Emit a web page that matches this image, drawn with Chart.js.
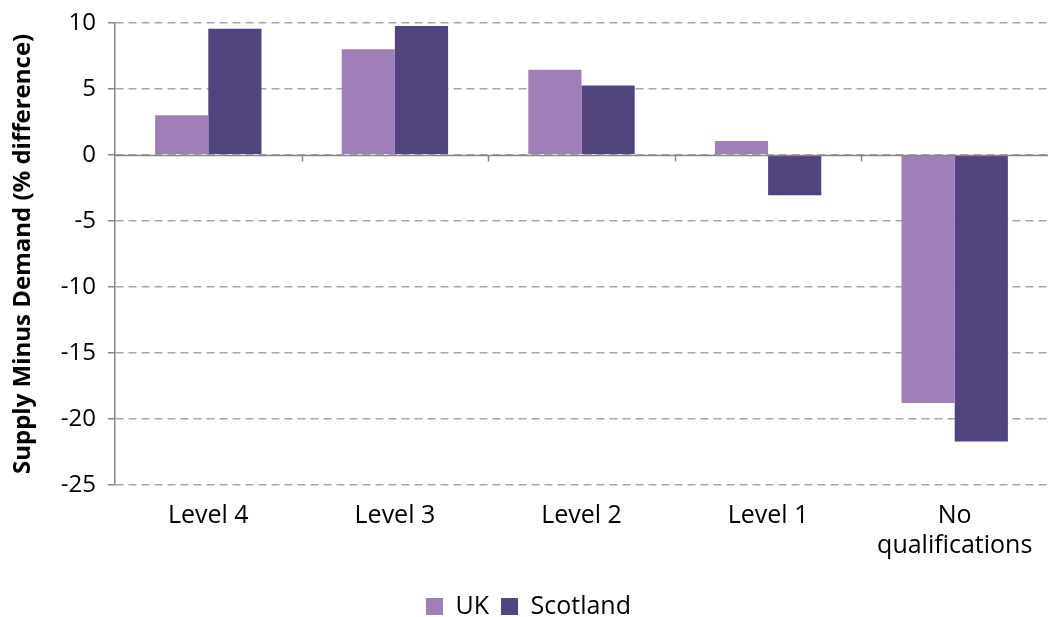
<!DOCTYPE html>
<html><head><meta charset="utf-8">
<script src="https://cdn.jsdelivr.net/npm/chart.js@4/dist/chart.umd.min.js"></script>
<style>html,body{margin:0;padding:0;background:#fff}#wrap{width:1048px;height:617px}</style>
</head><body><div id="wrap"><canvas id="c"></canvas></div>
<script>
const categories = [["Level 4"], ["Level 3"], ["Level 2"], ["Level 1"], ["No", "qualifications"]];
const ukValues = [3.0, 8.0, 6.45, 1.05, -18.8];
const scotlandValues = [9.55, 9.75, 5.25, -3.05, -21.7];
const yTicks = [10, 5, 0, -5, -10, -15, -20, -25];

const zeroLine = {
  id: 'zeroLine',
  afterLayout(chart) {
    // nudge the legend a little lower, as in the reference
    if (chart.legend) { chart.legend.top += 12; chart.legend.bottom += 12; }
  },
  afterDatasetsDraw(chart) {
    const {ctx, chartArea, scales} = chart;
    const y0 = Math.round(scales.y.getPixelForValue(0)) + 0.5;
    ctx.save();
    ctx.strokeStyle = '#868686';
    ctx.lineWidth = 1.5;
    ctx.beginPath();
    ctx.moveTo(chartArea.left, y0);
    ctx.lineTo(chartArea.right, y0);
    const n = categories.length;
    const w = (chartArea.right - chartArea.left) / n;
    for (let i = 1; i < n; i++) {
      const x = Math.round(chartArea.left + i * w) + 0.5;
      ctx.moveTo(x, y0);
      ctx.lineTo(x, y0 + 6);
    }
    ctx.stroke();
    ctx.restore();
  }
};

new Chart(document.getElementById('c'), {
  type: 'bar',
  data: {
    labels: categories,
    datasets: [
      {label: 'UK', data: ukValues, backgroundColor: '#9e7fb8'},
      {label: 'Scotland', data: scotlandValues, backgroundColor: '#52437e'}
    ]
  },
  options: {
    responsive: true,
    maintainAspectRatio: false,
    animation: false,
    layout: {padding: {top: 10, right: 0, left: 9, bottom: 0}},
    datasets: {bar: {categoryPercentage: 0.57, barPercentage: 1.0}},
    plugins: {
      legend: {
        position: 'bottom',
        labels: {boxWidth: 17, boxHeight: 17, padding: 12, color: '#000',
          font: {family: 'Open Sans', size: 25}}
      },
      tooltip: {enabled: false}
    },
    scales: {
      x: {
        afterFit(scale) { scale.height = 85; },
        grid: {display: false},
        border: {display: false},
        ticks: {color: '#000', font: {family: 'Open Sans', size: 25, lineHeight: 1.2}, padding: 8, maxRotation: 0}
      },
      y: {
        min: -25, max: 10,
        afterBuildTicks(scale) { scale.ticks = yTicks.map(v => ({value: v})); },
        afterFit(scale) { scale.width = 106; },
        grid: {color: '#a6a6a6', lineWidth: 1.5, tickLength: 7, tickColor: '#868686'},
        border: {display: true, color: '#868686', width: 1.5, dash: [8, 5]},
        ticks: {color: '#000', font: {family: 'Open Sans', size: 24, lineHeight: 0.9}, padding: 12},
        title: {display: true, text: 'Supply Minus Demand (% difference)', color: '#000',
          font: {family: 'Open Sans', size: 24, weight: 'bold'}, padding: {top: 0, bottom: 2}}
      }
    }
  },
  plugins: [zeroLine]
});
</script></body></html>
